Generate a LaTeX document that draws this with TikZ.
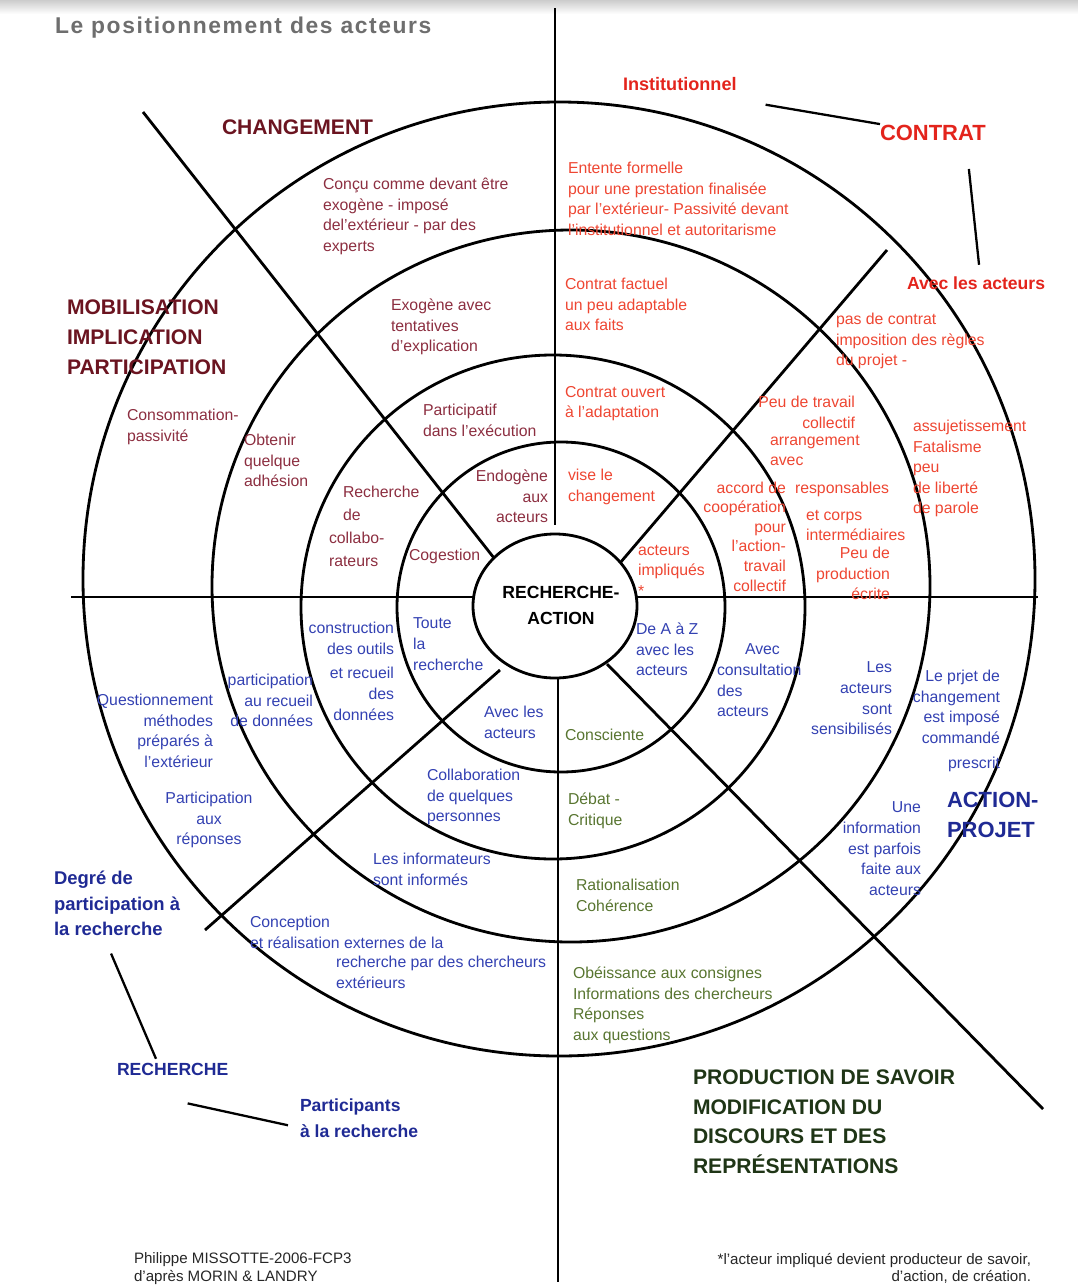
\documentclass[tikz,border=0pt]{standalone}
\usepackage{fontspec}
\setmainfont{Liberation Sans}
\usepackage{xcolor}
\usetikzlibrary{calc}
\definecolor{chg-dark}{HTML}{6B1420}
\definecolor{chg-text}{HTML}{8C2E40}
\definecolor{contrat-red}{HTML}{E3241C}
\definecolor{contrat-text}{HTML}{EE4632}
\definecolor{rech-blue}{HTML}{1F2A94}
\definecolor{rech-text}{HTML}{3341B2}
\definecolor{savoir-dark}{HTML}{1F3516}
\definecolor{savoir-text}{HTML}{587530}
\definecolor{title-gray}{HTML}{6E6E6E}

\begin{document}
\begin{tikzpicture}[x=0.2mm, y=-0.2mm,
    every node/.style={inner sep=0pt, outer sep=0pt},
    ringline/.style={line width=1.6pt},
    linkline/.style={line width=1.3pt},
    notetext/.style={font=\fontsize{9}{11.7}\selectfont, align=left, yshift=-0.8mm,
      execute at begin node=\strut},
    headtext/.style={font=\fontsize{12}{17}\selectfont\bfseries, align=left,
      execute at begin node=\strut},
    midtext/.style={font=\fontsize{10.3}{14.6}\selectfont\bfseries, align=left,
      execute at begin node=\strut}]
  \useasboundingbox (0,0) rectangle (1078,1286);
  \fill[top color=gray!40, bottom color=white] (0,0) rectangle (1078,14);

  % cercles
  \draw[ringline] (555,606) ellipse [x radius=82, y radius=72];
  \draw[ringline] (561,607) ellipse [x radius=164, y radius=165];
  \draw[ringline] (553,607) ellipse [x radius=252, y radius=252];
  \draw[ringline] (571,586) ellipse [x radius=359, y radius=356];
  \draw[ringline] (559,579) ellipse [x radius=476, y radius=477];

  % axes
  \draw[ringline] (555,8) -- (555,525);
  \draw[ringline] (558,678) -- (558,1282);
  \draw[ringline] (71,597) -- (473,597);
  \draw[ringline] (637,597) -- (1038,597);
  \draw[ringline] (143,112) -- (494,558);
  \draw[ringline] (620,563) -- (887,250);
  \draw[ringline] (607,664) -- (1043,1109);
  \draw[ringline] (500,670) -- (205,930);

  \node[anchor=base west, text=title-gray,
        font=\fontsize{13}{15}\selectfont\bfseries\addfontfeature{LetterSpace=7}]
        (titre) at (55,33) {Le positionnement des acteurs};

  % CHANGEMENT
  \node[headtext, text=chg-dark, anchor=base west] (chgt) at (222,134) {CHANGEMENT};
  \node[headtext, text=chg-dark, anchor=north west] (mobil) at (67,300)
        {MOBILISATION\\IMPLICATION\\PARTICIPATION};
  \node[notetext, text=chg-text, anchor=north west] (concu) at (323,174)
        {Conçu comme devant être\\exogène - imposé\\del'extérieur - par des\\experts};
  \node[notetext, text=chg-text, anchor=north west] (exogene) at (391,295)
        {Exogène avec\\tentatives\\d'explication};
  \node[notetext, text=chg-text, anchor=north west] (particip) at (423,400)
        {Participatif\\dans l'exécution};
  \node[notetext, text=chg-text, anchor=north east, align=right] (endogene) at (548,466)
        {Endogène\\aux\\acteurs};
  \node[notetext, text=chg-text, anchor=north west] (conso) at (127,405)
        {Consommation-\\passivité};
  \node[notetext, text=chg-text, anchor=north west] (obtenir) at (244,430)
        {Obtenir\\quelque\\adhésion};
  \node[notetext, text=chg-text, anchor=north west, font=\fontsize{9}{13}\selectfont]
        (collabo) at (329,482) {\hspace*{2.8mm}Recherche\\\hspace*{2.8mm}de\\collabo-\\rateurs};
  \node[notetext, text=chg-text, anchor=north west] (cogestion) at (409,542) {Cogestion};

  % CONTRAT
  \node[midtext, text=contrat-red, anchor=base west] (institu) at (623,90) {Institutionnel};
  \node[headtext, text=contrat-red, anchor=base west,
        font=\fontsize{12.5}{17}\selectfont\bfseries] (contrat) at (880,140) {CONTRAT};
  \node[midtext, text=contrat-red, anchor=base west,
        font=\fontsize{10}{14}\selectfont\bfseries] (avecact) at (907,289) {Avec les acteurs};
  \node[notetext, text=contrat-text, anchor=north west] (entente) at (568,158)
        {Entente formelle\\pour une prestation finalisée\\par l'extérieur- Passivité devant\\l'institutionnel et autoritarisme};
  \node[notetext, text=contrat-text, anchor=north west] (factuel) at (565,274)
        {Contrat factuel\\un peu adaptable\\aux faits};
  \node[notetext, text=contrat-text, anchor=north west] (ouvert) at (565,382)
        {Contrat ouvert\\à l'adaptation};
  \node[notetext, text=contrat-text, anchor=north west] (vise) at (568,465)
        {vise le\\changement};
  \node[notetext, text=contrat-text, anchor=north west] (impliques) at (638,541)
        {acteurs\\impliqués\\*};
  \node[notetext, text=contrat-text, anchor=north east, align=right,
        font=\fontsize{9}{11.1}\selectfont] (accord) at (786,478)
        {accord de\\coopération\\pour\\l'action-\\travail\\collectif};
  \node[notetext, text=contrat-text, anchor=north east, align=right] (peutravail) at (855,392)
        {Peu de travail\\collectif};
  \node[notetext, text=contrat-text, anchor=north west] (arrang) at (770,431)
        {arrangement\\avec};
  \node[notetext, text=contrat-text, anchor=north west] (respons) at (795,475) {responsables};
  \node[notetext, text=contrat-text, anchor=north west] (corps) at (806,506)
        {et corps\\intermédiaires};
  \node[notetext, text=contrat-text, anchor=north east, align=right] (peuprod) at (890,543)
        {Peu de\\production\\écrite};
  \node[notetext, text=contrat-text, anchor=north west] (pascontrat) at (836,309)
        {pas de contrat\\imposition des règles\\du projet -};
  \node[notetext, text=contrat-text, anchor=north west] (assujet) at (913,416)
        {assujetissement\\Fatalisme\\peu\\de liberté\\de parole};
  \draw[linkline] ($(institu.south east)+(29,7)$) -- ($(contrat.north west)+(0,5)$);
  \draw[linkline] ($(contrat.south)+(36,20)$) -- ($(avecact.north)+(3,-7)$);

  % RECHERCHE
  \node[midtext, text=rech-blue, anchor=north west,
        font=\fontsize{10.5}{14.6}\selectfont\bfseries] (degre) at (54,871)
        {Degré de\\participation à\\la recherche};
  \node[midtext, text=rech-blue, anchor=base west,
        font=\fontsize{10}{14}\selectfont\bfseries] (rech) at (117,1075) {RECHERCHE};
  \node[midtext, text=rech-blue, anchor=north west,
        font=\fontsize{10}{14.8}\selectfont\bfseries] (participants) at (300,1099)
        {Participants\\à la recherche};
  \draw[linkline] ($(degre.south)+(-6,10)$) -- ($(rech.north west)+(39,1)$);
  \draw[linkline] ($(rech.south)+(15,21)$) -- ($(participants.west)+(-12,3)$);
  \node[notetext, text=rech-text, anchor=north west] (toute) at (413,614)
        {Toute\\la\\recherche};
  \node[notetext, text=rech-text, anchor=north east, align=right] (outils) at (394,618)
        {construction\\des outils\\[2.5pt]et recueil\\des\\données};
  \node[notetext, text=rech-text, anchor=north east, align=right] (recueil) at (313,670)
        {participation\\au recueil\\de données};
  \node[notetext, text=rech-text, anchor=north east, align=right] (question) at (213,690)
        {Questionnement\\méthodes\\préparés à\\l'extérieur};
  \node[notetext, text=rech-text, anchor=north, align=center] (reponses) at (209,788)
        {Participation\\aux\\réponses};
  \node[notetext, text=rech-text, anchor=north west] (avecles) at (484,702)
        {Avec les\\acteurs};
  \node[notetext, text=rech-text, anchor=north west] (collab) at (427,765)
        {Collaboration\\de quelques\\personnes};
  \node[notetext, text=rech-text, anchor=north west] (informateurs) at (373,849)
        {Les informateurs\\sont informés};
  \node[notetext, text=rech-text, anchor=north west] (conception) at (250,912)
        {Conception\\et réalisation externes de la};
  \node[notetext, text=rech-text, anchor=north west] (externes) at (336,952)
        {recherche par des chercheurs\\extérieurs};

  % ACTION-PROJET
  \node[notetext, text=rech-text, anchor=north west] (deaz) at (636,619)
        {De A à Z\\avec les\\acteurs};
  \node[notetext, text=rech-text, anchor=north west] (consult) at (717,640)
        {\hspace*{5.6mm}Avec\\consultation\\des\\acteurs};
  \node[notetext, text=rech-text, anchor=north east, align=right] (sensib) at (892,658)
        {Les\\acteurs\\sont\\sensibilisés};
  \node[notetext, text=rech-text, anchor=north east, align=right] (prjet) at (1000,666)
        {Le prjet de\\changement\\est imposé\\commandé\\[2.5pt]prescrit};
  \node[notetext, text=rech-text, anchor=north east, align=right] (uneinfo) at (921,798)
        {Une\\information\\est parfois\\faite aux\\acteurs};
  \node[headtext, text=rech-blue, anchor=north west,
        font=\fontsize{12.5}{17}\selectfont\bfseries] (actproj) at (947,792) {ACTION-\\PROJET};

  % PRODUCTION DE SAVOIR
  \node[notetext, text=savoir-text, anchor=north west] (consciente) at (565,722) {Consciente};
  \node[notetext, text=savoir-text, anchor=north west] (debat) at (568,789)
        {Débat -\\Critique};
  \node[notetext, text=savoir-text, anchor=north west] (ratio) at (576,875)
        {Rationalisation\\Cohérence};
  \node[notetext, text=savoir-text, anchor=north west] (obeis) at (573,963)
        {Obéissance aux consignes\\Informations des chercheurs\\Réponses\\aux questions};
  \node[headtext, text=savoir-dark, anchor=north west,
        font=\fontsize{12}{16.8}\selectfont\bfseries] (savoir) at (693,1070)
        {PRODUCTION DE SAVOIR\\MODIFICATION DU\\DISCOURS ET DES\\REPRÉSENTATIONS};

  % centre et pied de page
  \node[midtext, anchor=north, align=center,
        font=\fontsize{10}{14.8}\selectfont\bfseries] (ra) at (561,586) {RECHERCHE-\\ACTION};
  \node[notetext, anchor=north west, text=black!85,
        font=\fontsize{8.6}{10.2}\selectfont] (auteur) at (134,1249)
        {Philippe MISSOTTE-2006-FCP3\\d'après MORIN \& LANDRY};
  \node[notetext, anchor=north east, align=right, text=black!85,
        font=\fontsize{8.6}{10}\selectfont] (renvoi) at (1031,1249)
        {*l'acteur impliqué devient producteur de savoir,\\d'action, de création.};
\end{tikzpicture}
\end{document}
